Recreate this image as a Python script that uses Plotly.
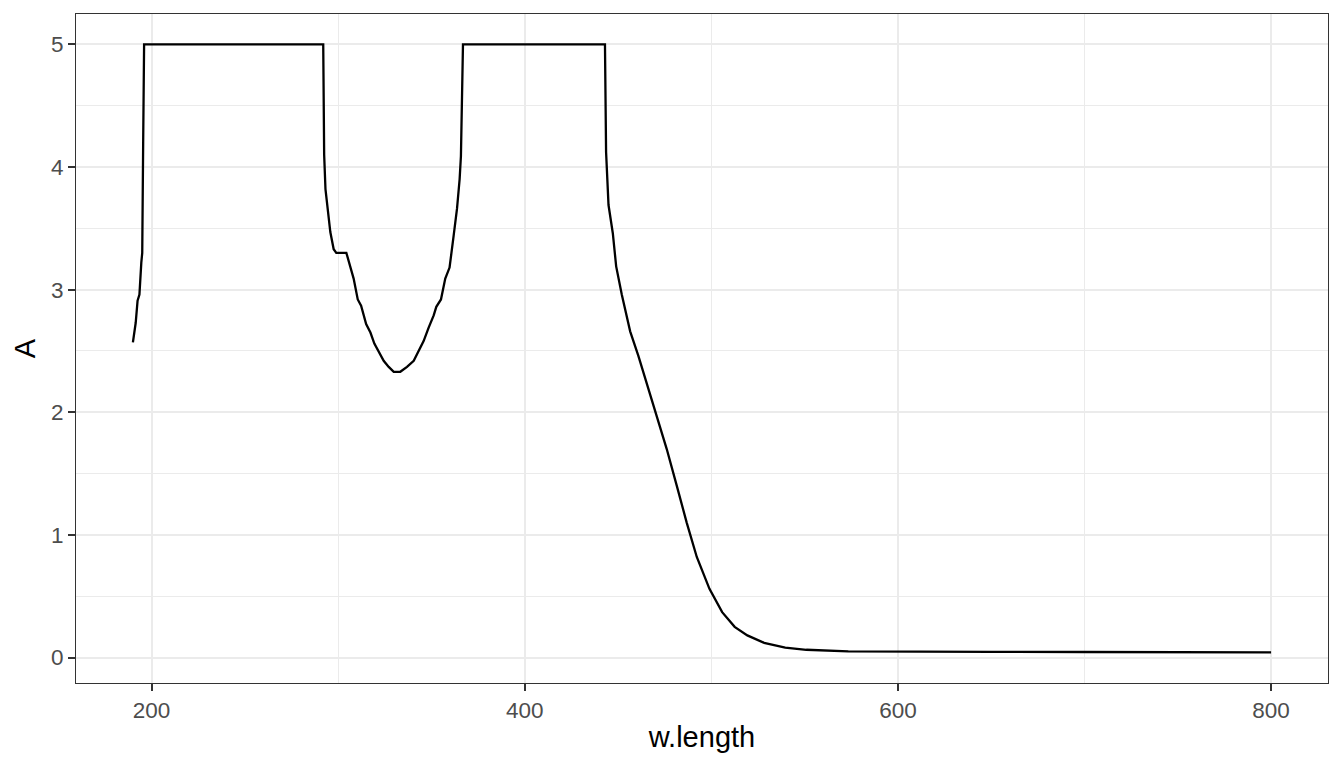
import plotly.graph_objects as go

# absorbance spectrum (nm, absorbance)
w_length = [
    190, 191.5, 192.5, 193.5, 194.5, 195, 195.5, 196,
    292, 292.5, 293.2, 294.4, 295.8, 297.6, 299, 304.4, 306.6, 308.3,
    310.5, 312.3, 315, 317.3, 319.4, 321.7, 324.4, 327.1, 329.8, 333.3,
    336.9, 340.5, 343.1, 345.8, 348.5, 351.2, 352.6, 355.1, 357.4, 359.7,
    361.9, 363.7, 365.1, 365.8, 366.9,
    443, 443.6, 444.9, 447.2, 449, 452, 456.5, 460.9, 465.4, 470.8, 476.1,
    481.5, 486.8, 492.2, 499, 505.8, 512.5, 519.3, 528.3, 539.6, 550.9,
    573.4, 600, 650, 700, 750, 800,
]
absorbance = [
    2.57, 2.73, 2.91, 2.96, 3.22, 3.30, 4.20, 5.00,
    5.00, 4.10, 3.82, 3.63, 3.47, 3.33, 3.30, 3.30, 3.17, 3.09,
    2.92, 2.87, 2.72, 2.65, 2.56, 2.50, 2.42, 2.37, 2.33, 2.33,
    2.37, 2.42, 2.50, 2.58, 2.69, 2.79, 2.86, 2.92, 3.09, 3.18,
    3.44, 3.66, 3.90, 4.09, 5.00,
    5.00, 4.12, 3.69, 3.46, 3.19, 2.96, 2.66, 2.46, 2.23, 1.96, 1.70,
    1.40, 1.10, 0.82, 0.56, 0.37, 0.25, 0.18, 0.12, 0.08, 0.063,
    0.05, 0.047, 0.046, 0.045, 0.043, 0.042,
]

x_ticks = [200, 400, 600, 800]
x_minor = [300, 500, 700]
y_ticks = [0, 1, 2, 3, 4, 5]
y_minor = [0.5, 1.5, 2.5, 3.5, 4.5]

GRID = "#EBEBEB"
FONT = "Liberation Sans, Arial, sans-serif"

fig = go.Figure()
fig.add_trace(go.Scatter(
    x=w_length, y=absorbance, mode="lines",
    line=dict(color="black", width=2.3),
    showlegend=False, hoverinfo="skip",
))

axis_common = dict(
    showline=True, mirror=True, linecolor="#333333", linewidth=1.1,
    showgrid=True, gridcolor=GRID, gridwidth=2,
    ticks="outside", ticklen=7, tickwidth=1.5, tickcolor="#333333",
    tickfont=dict(family=FONT, size=22.5, color="#4D4D4D"),
    zeroline=False,
)

# the page body keeps its 8px margin, so the figure is sized to fit inside it
fig.update_layout(
    width=1328, height=752,
    margin=dict(l=68, r=8, t=6, b=77),
    paper_bgcolor="white", plot_bgcolor="white",
    xaxis=dict(
        range=[159.5, 830.5], tickvals=x_ticks,
        minor=dict(tickvals=x_minor, showgrid=True,
                   gridcolor=GRID, gridwidth=1, ticks=""),
        title=dict(text="w.length", font=dict(family=FONT, size=29, color="black"),
                   standoff=4),
        **axis_common,
    ),
    yaxis=dict(
        range=[-0.208, 5.248], tickvals=y_ticks,
        minor=dict(tickvals=y_minor, showgrid=True,
                   gridcolor=GRID, gridwidth=1, ticks=""),
        title=dict(text="A", font=dict(family=FONT, size=29, color="black"),
                   standoff=6),
        **axis_common,
    ),
)

fig.write_html("out.html")
